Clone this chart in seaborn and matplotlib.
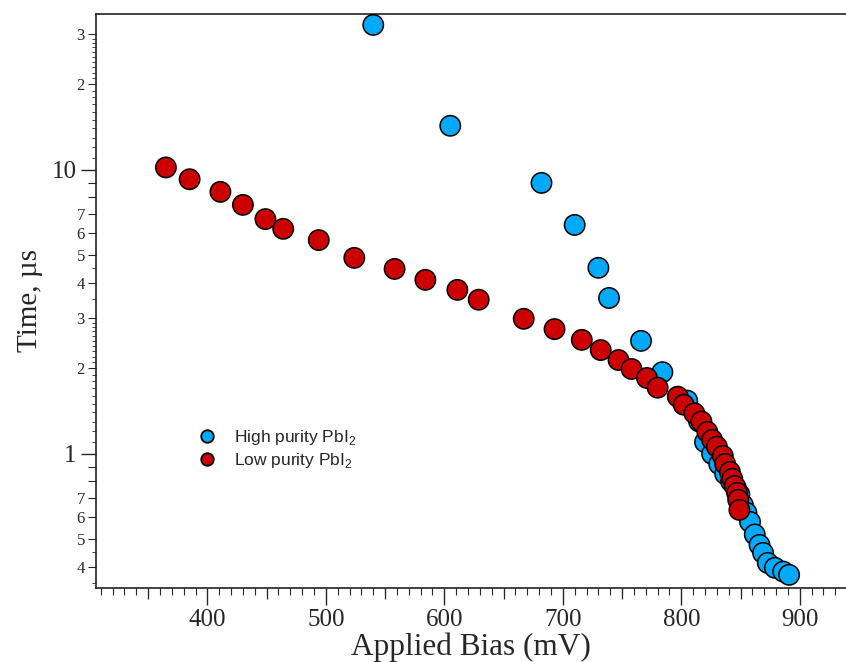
import numpy as np
import pandas as pd
import matplotlib
matplotlib.use("Agg")
import matplotlib.pyplot as plt
import matplotlib.ticker as mticker
import seaborn as sns

# Transit time vs applied bias for two PbI2 precursor purities
high_bias = [540, 605, 682, 710, 730, 739, 766, 784, 805, 815, 820, 826, 832, 837,
             842, 846, 849, 852, 855, 858, 862, 866, 869, 873, 879, 886, 891]
high_time = [32.4, 14.3, 9.0, 6.4, 4.52, 3.54, 2.50, 1.94, 1.54, 1.30, 1.10, 1.00, 0.92,
             0.85, 0.80, 0.76, 0.72, 0.66, 0.62, 0.576, 0.52, 0.478, 0.448, 0.413,
             0.397, 0.385, 0.375]

low_bias = [365, 385, 411, 430, 449, 464, 494, 524, 558, 584, 611, 629, 667, 693, 716,
            732, 747, 758, 771, 780, 797, 802, 811, 817, 822, 826, 830, 835, 837, 841,
            843, 845, 847, 848, 849]
low_time = [10.2, 9.27, 8.37, 7.53, 6.71, 6.20, 5.66, 4.90, 4.48, 4.10, 3.78, 3.49,
            2.99, 2.75, 2.52, 2.32, 2.14, 1.99, 1.85, 1.71, 1.59, 1.49, 1.39, 1.30,
            1.195, 1.12, 1.06, 0.984, 0.922, 0.864, 0.817, 0.771, 0.729, 0.689, 0.635]

labels = ["High purity PbI$_2$", "Low purity PbI$_2$"]
colors = ["#00AAF8", "#CC0000"]

df = pd.concat([
    pd.DataFrame({"bias": high_bias, "time": high_time, "sample": labels[0]}),
    pd.DataFrame({"bias": low_bias, "time": low_time, "sample": labels[1]}),
], ignore_index=True)

sns.set_style("ticks")
plt.rcParams["font.family"] = ["Liberation Serif", "DejaVu Serif"]
plt.rcParams["mathtext.fontset"] = "custom"
plt.rcParams["mathtext.rm"] = "Liberation Sans"

fig = plt.figure(figsize=(8.46, 6.62), dpi=100)
ax = fig.add_axes([96 / 846, 1 - 588 / 662, 1 - 96 / 846, (588 - 14) / 662])

sns.scatterplot(data=df, x="bias", y="time", hue="sample", palette=colors,
                s=215, edgecolor="black", linewidth=1.1, ax=ax, legend=False,
                zorder=3)

ax.set_yscale("log")
ax.set_xlim(306, 939)
ax.set_ylim(0.337, 35.4)

# x ticks: major every 100, small every 10, medium every 50 on a second axis
ax.xaxis.set_major_locator(mticker.MultipleLocator(100))
ax.xaxis.set_minor_locator(mticker.MultipleLocator(10))
ax.tick_params(axis="x", which="major", length=12, width=1, direction="out",
               labelsize=18, pad=3)
ax.tick_params(axis="x", which="minor", length=5, width=0.8, direction="out")
sec_x = ax.secondary_xaxis("bottom")
sec_x.set_xticks(list(range(350, 950, 100)))
sec_x.set_xticklabels([])
sec_x.tick_params(axis="x", length=8, width=0.9, direction="out")
sec_x.spines["bottom"].set_visible(False)

# y ticks on log scale: labelled decades, single-digit labels in between
major_y = [1, 10]
mid_y = [0.4, 0.5, 0.6, 0.7, 0.8, 0.9, 2, 3, 4, 5, 6, 7, 8, 9, 20, 30]
small_y = ([round(0.1 * k, 2) for k in range(11, 30) if k % 10 != 0] +
           [round(1.0 * k, 1) for k in range(11, 30) if k % 10 != 0] +
           [0.35, 0.45, 3.5, 4.5])
ax.yaxis.set_major_locator(mticker.FixedLocator(major_y))
ax.yaxis.set_major_formatter(mticker.FixedFormatter(["1", "10"]))
ax.yaxis.set_minor_locator(mticker.FixedLocator(mid_y))
digit = {0.4: "4", 0.5: "5", 0.6: "6", 0.7: "7", 2: "2", 3: "3", 4: "4",
         5: "5", 6: "6", 7: "7", 20: "2", 30: "3"}
ax.yaxis.set_minor_formatter(mticker.FixedFormatter([digit.get(v, "") for v in mid_y]))
ax.tick_params(axis="y", which="major", length=11, width=1, direction="out",
               labelsize=18, pad=3)
ax.tick_params(axis="y", which="minor", length=6, width=0.8, direction="out",
               labelsize=12, pad=2)
sec_y = ax.secondary_yaxis("left")
sec_y.yaxis.set_major_locator(mticker.FixedLocator(small_y))
sec_y.yaxis.set_minor_locator(mticker.NullLocator())
sec_y.set_yticklabels([])
sec_y.tick_params(axis="y", which="both", length=3, width=0.6, direction="out")
sec_y.spines["left"].set_visible(False)

ax.spines["right"].set_visible(False)
for side in ["left", "bottom", "top"]:
    ax.spines[side].set_linewidth(1.2)
    ax.spines[side].set_color("#222222")

ax.set_xlabel("Applied Bias (mV)", fontsize=22.5, labelpad=1)
ax.set_ylabel("Time, \u00b5s", fontsize=21, labelpad=6)

# legend
handles = [plt.Line2D([], [], marker="o", linestyle="", markersize=9,
                      markerfacecolor=c, markeredgecolor="black",
                      markeredgewidth=1.3) for c in colors]
leg = ax.legend(handles, labels, loc="upper left",
                bbox_to_anchor=(78 / 750, 1 - 398 / 574), frameon=False,
                handletextpad=0.55, labelspacing=0.25,
                prop={"family": "Liberation Sans", "size": 12.5})

fig.savefig("out.png", dpi=100)
